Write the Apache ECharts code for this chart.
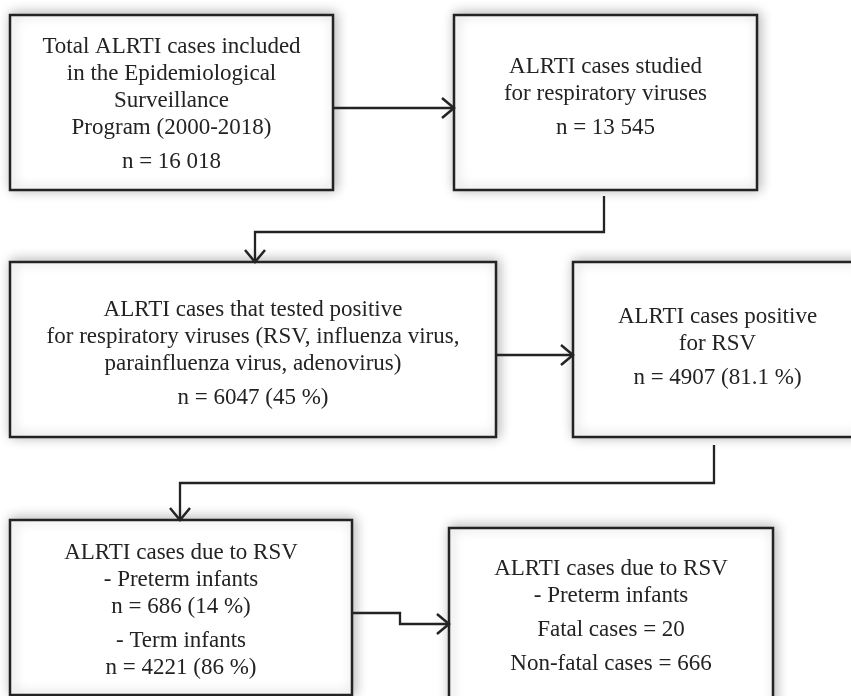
<!DOCTYPE html>
<html>
<head>
<meta charset="utf-8">
<script src="https://cdn.jsdelivr.net/npm/echarts@6/dist/echarts.min.js"></script>
<style>html,body{margin:0;padding:0;background:#fff;}#chart{width:851px;height:696px;}</style>
</head>
<body>
<div id="chart"></div>
<script>
// ---- Data (text content) ----
const totalLines = ["Total ALRTI cases included", "in the Epidemiological", "Surveillance", "Program (2000-2018)"];
const studiedLines = ["ALRTI cases studied", "for respiratory viruses"];
const positiveLines = ["ALRTI cases that tested positive", "for respiratory viruses (RSV, influenza virus,", "parainfluenza virus, adenovirus)"];
const rsvLines = ["ALRTI cases positive", "for RSV"];
const rsvDueLines = ["ALRTI cases due to RSV", "- Preterm infants"];
const termLabel = "- Term infants";
const caseCounts = [16018, 13545, 6047, 4907, 686, 4221, 20, 666];
const casePercents = [null, null, "45", "81.1", "14", "86"];

function fmtN(v) { return v >= 10000 ? String(v).replace(/(\d)(?=(\d{3})+$)/g, "$1 ") : String(v); }
function nLine(v, p) { return "n = " + fmtN(v) + (p ? " (" + p + " %)" : ""); }

const boxLabels = [
  [totalLines, [nLine(caseCounts[0])]],
  [studiedLines, [nLine(caseCounts[1])]],
  [positiveLines, [nLine(caseCounts[2], casePercents[2])]],
  [rsvLines, [nLine(caseCounts[3], casePercents[3])]],
  [rsvDueLines.concat([nLine(caseCounts[4], casePercents[4])]), [termLabel, nLine(caseCounts[5], casePercents[5])]],
  [rsvDueLines, ["Fatal cases = " + caseCounts[6]], ["Non-fatal cases = " + caseCounts[7]]]
];

// ---- Layout (positions in page units, mapped through hidden axes) ----
const boxRects = [[10, 15, 333, 190], [454, 15, 757, 190], [10, 262, 496, 437], [573, 262, 862, 437], [10, 520, 352, 695], [449, 528, 773, 730]];
const textCenterY = [104.5, 97.5, 354, 347, 610.5, 616.5];
const connectors = [
  [[333, 108], [454, 108]],
  [[604, 196], [604, 232], [255, 232], [255, 262]],
  [[496, 355], [573, 355]],
  [[714, 445], [714, 483], [180, 483], [180, 520]],
  [[352, 613], [400, 613], [400, 624], [449, 624]]
];

const FONT = '23px "Liberation Serif", serif';
const INK = '#232323';
const LINE_STEP = 27, GROUP_GAP = 34;

const chart = echarts.init(document.getElementById('chart'), null, { renderer: 'canvas' });

const option = {
  backgroundColor: '#ffffff',
  animation: false,
  grid: { left: 0, right: 0, top: 0, bottom: 0 },
  xAxis: { type: 'value', min: 0, max: 851, show: false },
  yAxis: { type: 'value', min: 0, max: 696, inverse: true, show: false },
  series: [
    {
      type: 'custom',
      clip: false,
      data: boxRects.map((r, i) => [i]),
      renderItem: function (params, api) {
        const i = api.value(0);
        const r = boxRects[i];
        const p0 = api.coord([r[0], r[1]]);
        const p1 = api.coord([r[2], r[3]]);
        const children = [{
          type: 'rect',
          shape: { x: p0[0], y: p0[1], width: p1[0] - p0[0], height: p1[1] - p0[1] },
          style: { fill: '#fff', stroke: INK, lineWidth: 2.5, shadowBlur: 12, shadowColor: 'rgba(0,0,0,0.28)', shadowOffsetX: 2, shadowOffsetY: -1 }
        }];
        const groups = boxLabels[i];
        let span = 0;
        groups.forEach((g, gi) => { span += (g.length - 1) * LINE_STEP; if (gi > 0) span += GROUP_GAP; });
        const cx = (r[0] + r[2]) / 2;
        let y = textCenterY[i] - span / 2;
        groups.forEach((g, gi) => {
          if (gi > 0) y += GROUP_GAP;
          g.forEach((line, li) => {
            if (li > 0) y += LINE_STEP;
            const c = api.coord([cx, y]);
            children.push({
              type: 'text',
              style: { text: line, x: c[0], y: c[1], font: FONT, fill: INK, align: 'center', verticalAlign: 'middle' }
            });
          });
        });
        return { type: 'group', children: children };
      }
    },
    {
      type: 'custom',
      clip: false,
      data: connectors.map((c, i) => [i]),
      renderItem: function (params, api) {
        const pts = connectors[api.value(0)].map(p => api.coord(p));
        const a = pts[pts.length - 1], b = pts[pts.length - 2];
        const dx = a[0] - b[0], dy = a[1] - b[1];
        const len = Math.hypot(dx, dy);
        const ux = dx / len, uy = dy / len;
        const h = 12, w = 10;
        const bx = a[0] - ux * h, by = a[1] - uy * h;
        return {
          type: 'group',
          children: [
            { type: 'polyline', shape: { points: pts }, style: { stroke: INK, lineWidth: 2.3, fill: null } },
            { type: 'polyline', shape: { points: [[bx - uy * w, by + ux * w], [a[0], a[1]], [bx + uy * w, by - ux * w]] }, style: { stroke: INK, lineWidth: 2.5, fill: null } }
          ]
        };
      }
    }
  ]
};
chart.setOption(option);
</script>
</body>
</html>
